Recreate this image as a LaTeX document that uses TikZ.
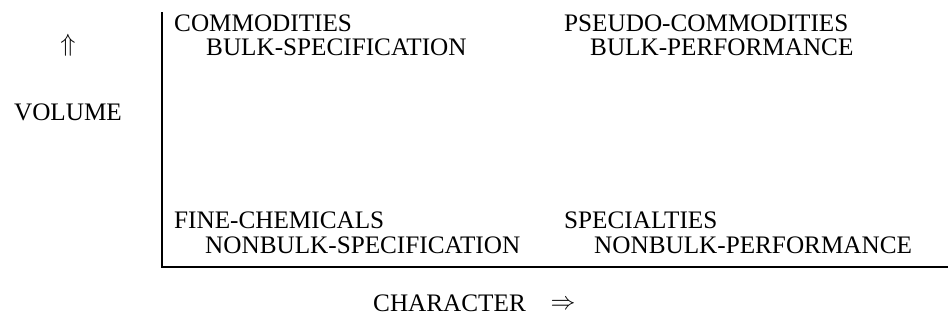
\documentclass[tikz,border=0pt]{standalone}
\usepackage{fontspec}
\setmainfont{Liberation Serif}
\begin{document}
\begin{tikzpicture}[x=1pt,y=-1pt,
  lbl/.style={font=\fontsize{25.2}{30}\selectfont, inner sep=0pt, anchor=west},
  axis/.style={line width=1.6pt, black}]
\useasboundingbox (0,0) rectangle (948,324);
\coordinate (top) at (162,12);
\coordinate (o) at (162,267);
\coordinate (right) at (948,267);
\draw[axis] (top) -- (o) -- (right);
\node[lbl, anchor=center] (up) at (68,45) {$\Uparrow$};
\node[lbl, anchor=center] (vol) at (68,112) {VOLUME};
\node[lbl] (com) at (174,23) {COMMODITIES};
\node[lbl] (bs) at (206,47) {BULK-SPECIFICATION};
\node[lbl] (pc) at (564,23) {PSEUDO-COMMODITIES};
\node[lbl] (bp) at (590,47) {BULK-PERFORMANCE};
\node[lbl] (fc) at (174,220) {FINE-CHEMICALS};
\node[lbl] (ns) at (205,245) {NONBULK-SPECIFICATION};
\node[lbl] (sp) at (564,220) {SPECIALTIES};
\node[lbl] (np) at (594,245) {NONBULK-PERFORMANCE};
\node[lbl] (chr) at (373,303) {CHARACTER};
\node[lbl, anchor=center] (rt) at (563,305) {$\Rightarrow$};
\end{tikzpicture}
\end{document}
